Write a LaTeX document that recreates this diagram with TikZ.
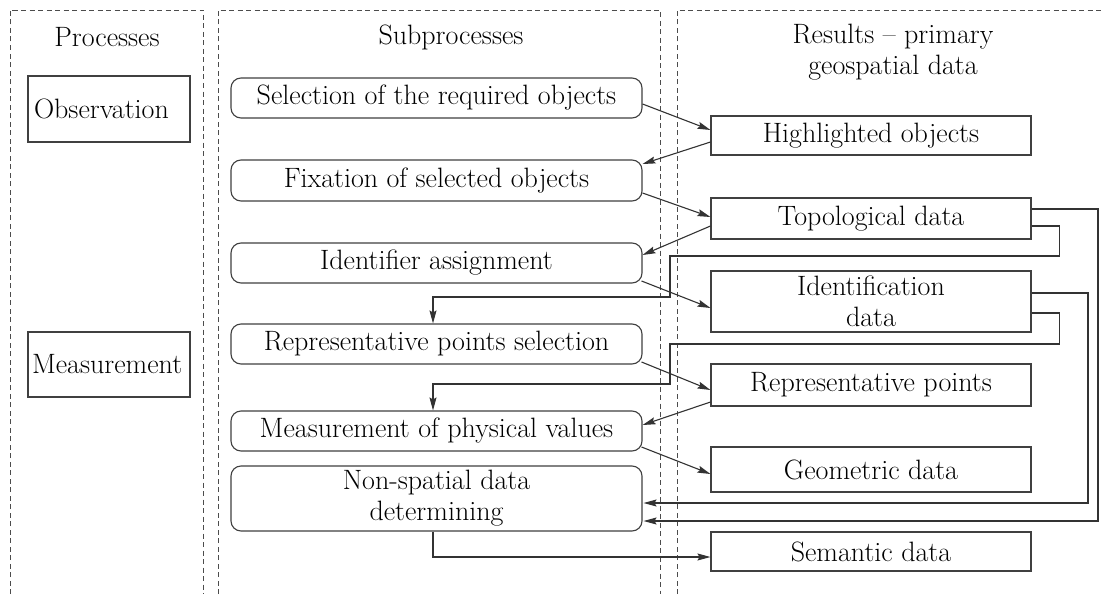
\documentclass[tikz,border=0pt]{standalone}
\usepackage{fontspec}
\usetikzlibrary{arrows.meta,calc}
\begin{document}
\begin{tikzpicture}[x=1pt,y=-1pt,
  every node/.style={font=\fontsize{28}{31}\selectfont, text=black},
  colbox/.style={draw=black!70, line width=0.9pt, dash pattern=on 5pt off 3.5pt},
  procbox/.style={draw=black!75, line width=1.1pt, minimum width=162pt, text width=154pt, inner xsep=4pt, inner ysep=0pt, align=left},
  subbox/.style={draw=black!75, line width=1.1pt, rounded corners=10pt, minimum width=411pt, inner sep=0pt, align=center},
  resbox/.style={draw=black!75, line width=1.1pt, minimum width=320pt, inner sep=0pt, align=center},
  arr/.style={draw=black!80, line width=1.1pt, -{Stealth[length=13pt,width=7pt,inset=2pt]}}
]
\useasboundingbox (0,0) rectangle (1102,594);
\fill[white] (0,0) rectangle (1102,594);

% columns
\draw[colbox] (10,594) -- (10,10) -- (203,10) -- (203,594);
\draw[colbox] (218,594) -- (218,10) -- (660,10) -- (660,594);
\draw[colbox] (677,594) -- (677,10) -- (1102,10);

% headers
\node (hp) at (107,37) {Processes};
\node (hs) at (451,37) {Subprocesses};
\node[align=center] (hr) at (893,52) {Results -- primary\\geospatial data};

% processes
\node[procbox, minimum height=66pt] (obs) at (109,109) {\hspace*{2pt}Observation};
\node[procbox, minimum height=65pt] (mea) at (109,364.5) {Measurement};

% subprocesses
\node[subbox, minimum height=40pt] (sel) at (436.5,98) {Selection of the required objects};
\node[subbox, minimum height=41pt] (fix) at (436.5,180.5) {Fixation of selected objects};
\node[subbox, minimum height=40pt] (ida) at (436.5,263) {Identifier assignment};
\node[subbox, minimum height=40pt] (rps) at (436.5,344) {Representative points selection};
\node[subbox, minimum height=40pt] (mpv) at (436.5,431) {Measurement of physical values};
\node[subbox, minimum height=65pt] (nsd) at (436.5,498.5) {Non-spatial data\\determining};

% results
\node[resbox, minimum height=39pt] (hlo) at (871,135.5) {Highlighted objects};
\node[resbox, minimum height=41pt] (top) at (871,218.5) {Topological data};
\node[resbox, minimum height=61pt] (idd) at (871,301.5) {Identification\\data};
\node[resbox, minimum height=42pt] (rpt) at (871,385) {Representative points};
\node[resbox, minimum height=45pt] (geo) at (871,469.5) {Geometric data};
\node[resbox, minimum height=39pt] (sem) at (871,551.5) {Semantic data};

% diagonal connectors
\draw[arr] ($(sel.east)+(0,6)$) -- ($(hlo.west)+(0,-5.5)$);
\draw[arr] ($(hlo.west)+(0,6.5)$) -- ($(fix.east)+(0,-16.5)$);
\draw[arr] ($(fix.east)+(0,12.5)$) -- ($(top.west)+(0,-1.5)$);
\draw[arr] ($(top.west)+(0,7.5)$) -- ($(ida.east)+(0,-8)$);
\draw[arr] ($(ida.east)+(-1,18)$) -- ($(idd.west)+(0,6.5)$);
\draw[arr] ($(rps.east)+(-1,18)$) -- ($(rpt.west)+(0,5)$);
\draw[arr] ($(rpt.west)+(0,17)$) -- ($(mpv.east)+(0,-6)$);
\draw[arr] ($(mpv.east)+(-1,16)$) -- ($(geo.west)+(0,4.5)$);

% feedback loops
\draw[arr] ($(top.east)+(0,7.5)$) -- ++(28,0) -- ++(0,30) -- (670,256) -- (670,297) -| ($(rps.north)+(-3.5,0)$);
\draw[arr] ($(idd.east)+(0,11.5)$) -- ++(28,0) -- ++(0,31) -- (670,344) -- (670,384) -| ($(mpv.north)+(-3.5,0)$);
\draw[arr] ($(top.east)+(0,-9.5)$) -| (1098,521) -- ($(nsd.east)+(1,22.5)$);
\draw[arr] ($(idd.east)+(0,-8.5)$) -| (1088,503) -- ($(nsd.east)+(1,4.5)$);
\draw[arr] ($(nsd.south)+(-3.5,0)$) |- ($(sem.west)+(0,5.5)$);
\end{tikzpicture}
\end{document}
